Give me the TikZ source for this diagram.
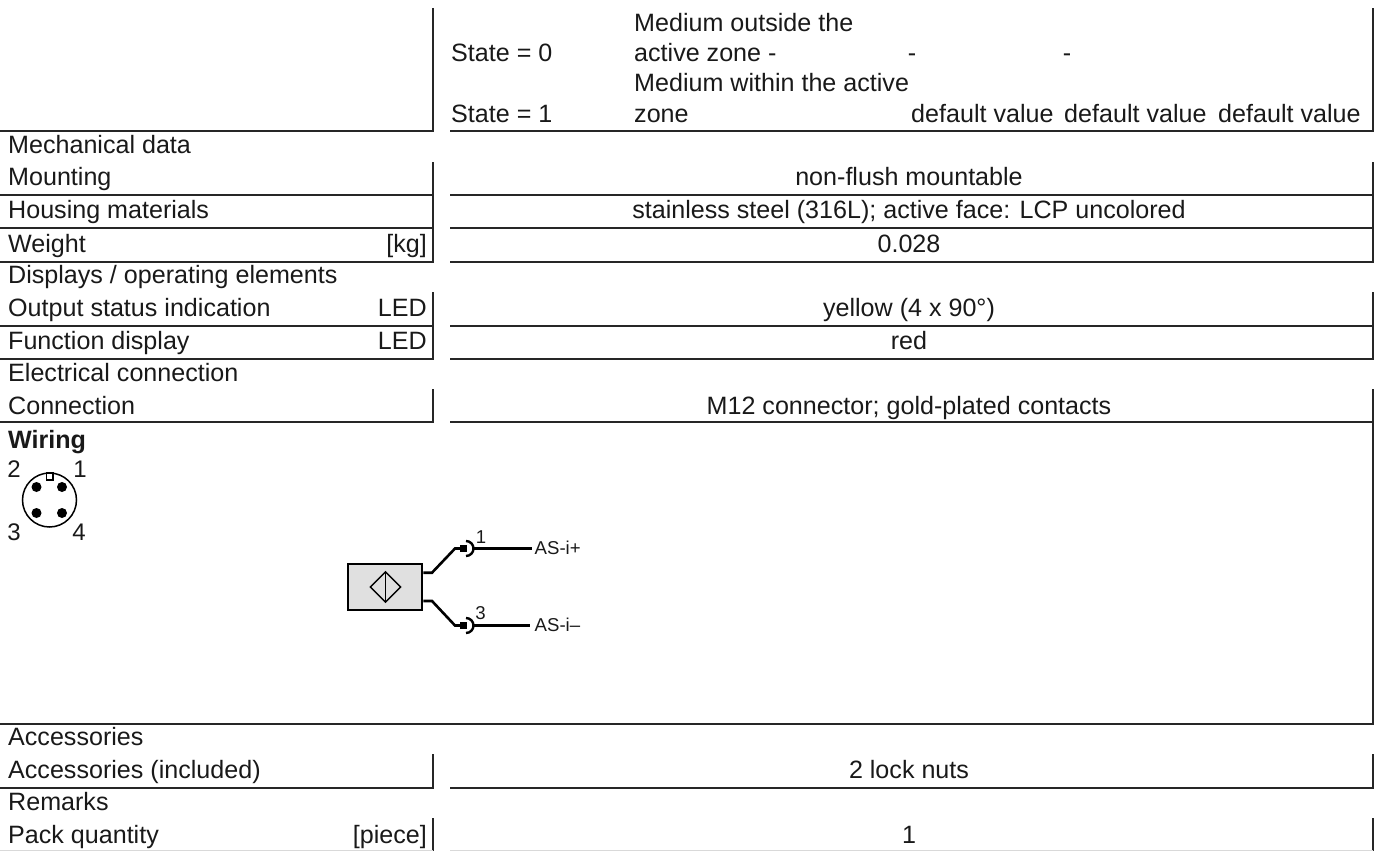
\documentclass[tikz,border=0pt]{standalone}
\usepackage{fontspec}
\setmainfont{Liberation Sans}
\usetikzlibrary{positioning,shapes.geometric}
\tikzset{
    rule/.style={draw=black!85, line width=1.3pt},
    txt/.style={inner sep=0pt, anchor=base west, font=\fontsize{25.1}{27}\selectfont, text=black!90},
    mid/.style={inner sep=0pt, anchor=base, font=\fontsize{25.1}{27}\selectfont, text=black!90},
    rgt/.style={inner sep=0pt, anchor=base east, font=\fontsize{25.1}{27}\selectfont, text=black!90},
    pin/.style={inner sep=0pt, anchor=base, font=\fontsize{24}{26}\selectfont, text=black!90},
    small/.style={inner sep=0pt, anchor=base west, font=\fontsize{18.6}{20}\selectfont, text=black!90},
    wire/.style={draw=black, line width=2.6pt},
    dot/.style={circle, fill=black, inner sep=0pt, minimum size=10pt}
}
\begin{document}
\begin{tikzpicture}[x=1pt, y=-1pt]
    \useasboundingbox (0,0) rectangle (1381,851);
    % table rules
    \draw[rule] (433,8) -- (433,131) -- (0,131);
    \draw[rule] (450,131) -- (1373,131) -- (1373,8);
    \draw[rule] (433,162) -- (433,262) -- (0,262);
    \draw[rule] (0,195) -- (433,195);
    \draw[rule] (0,228) -- (433,228);
    \draw[rule] (450,262) -- (1373,262) -- (1373,162);
    \draw[rule] (450,195) -- (1373,195);
    \draw[rule] (450,228) -- (1373,228);
    \draw[rule] (433,292) -- (433,359) -- (0,359);
    \draw[rule] (0,326) -- (433,326);
    \draw[rule] (450,359) -- (1373,359) -- (1373,292);
    \draw[rule] (450,326) -- (1373,326);
    \draw[rule] (433,389) -- (433,422) -- (0,422);
    \draw[rule] (450,422) -- (1373,422) -- (1373,389);
    \draw[rule] (1373,422) -- (1373,724) -- (0,724);
    \draw[rule] (433,754) -- (433,788) -- (0,788);
    \draw[rule] (450,788) -- (1373,788) -- (1373,754);
    \draw[rule] (433,818) -- (433,851);
    \draw[rule] (1373,818) -- (1373,851);
    \draw[draw=black!15, line width=1pt] (0,850.5) -- (433,850.5);
    \draw[draw=black!15, line width=1pt] (450,850.5) -- (1373,850.5);
    % state rows
    \node[txt] (st0) at (451,62) {State = 0};
    \node[txt] (st1) at (451,122) {State = 1};
    \node[txt] (m1) at (634,32) {Medium outside the};
    \node[txt] (m2) at (634,62) {active zone -};
    \node[txt] (m3) at (634,92) {Medium within the active};
    \node[txt] (m4) at (634,122) {zone};
    \node[mid] (d1) at (912,62) {-};
    \node[mid] (d2) at (1067,62) {-};
    \node[txt] (v1) at (911,122) {default value};
    \node[txt] (v2) at (1064,122) {default value};
    \node[txt] (v3) at (1218,122) {default value};
    % left column
    \node[txt] (mech) at (8,153) {Mechanical data};
    \node[txt] (mount) at (8,185) {Mounting};
    \node[txt] (hous) at (8,218) {Housing materials};
    \node[txt] (wght) at (8,252) {Weight};
    \node[rgt] (kg) at (427,252) {[kg]};
    \node[txt] (disp) at (8,283) {Displays / operating elements};
    \node[txt] (outp) at (8,316) {Output status indication};
    \node[rgt] (led1) at (427,316) {LED};
    \node[txt] (func) at (8,349) {Function display};
    \node[rgt] (led2) at (427,349) {LED};
    \node[txt] (elec) at (8,381) {Electrical connection};
    \node[txt] (conn) at (8,414) {Connection};
    \node[txt, font=\fontsize{25.1}{27}\selectfont\bfseries] (wir) at (8,448) {Wiring};
    \node[txt] (acc) at (8,745) {Accessories};
    \node[txt] (inc) at (8,778) {Accessories (included)};
    \node[txt] (rem) at (8,810) {Remarks};
    \node[txt] (pack) at (8,843) {Pack quantity};
    \node[rgt] (pc) at (427,843) {[piece]};
    % right column
    \node[mid] (r1) at (909,185) {non-flush mountable};
    \node[mid] (r2) at (909,218) {stainless steel (316L); active face: LCP uncolored};
    \node[mid] (r3) at (909,252) {0.028};
    \node[mid] (r4) at (909,316) {yellow (4 x 90°)};
    \node[mid] (r5) at (909,349) {red};
    \node[mid] (r6) at (909,414) {M12 connector; gold-plated contacts};
    \node[mid] (r7) at (909,778) {2 lock nuts};
    \node[mid] (r8) at (909,843) {1};
    % connector face
    \draw[line width=1.5pt] (49.5,500) circle (27);
    \draw[line width=1.3pt, fill=white] (46.5,473) rectangle (53,480);
    \node[dot] (p2) at (36.5,487) {};
    \node[dot] (p1) at (62,487) {};
    \node[dot] (p3) at (36.5,513) {};
    \node[dot] (p4) at (62,513) {};
    \node[pin] (n2) at (14,477) {2};
    \node[pin] (n1) at (80,477) {1};
    \node[pin] (n3) at (14,540) {3};
    \node[pin] (n4) at (79,540) {4};
    % sensor
    \node[draw=black, line width=2.7pt, fill=black!12, minimum width=74pt, minimum height=46pt, inner sep=0pt] (sens) at (385,587) {};
    \node[draw=black, line width=1.4pt, diamond, aspect=1, minimum size=31pt, inner sep=0pt] (face) at (385.5,587) {};
    \draw[line width=1.4pt] (face.north) -- (face.south);
    \coordinate (a1) at (460,548.5);
    \coordinate (a3) at (460,625.5);
    \draw[wire] (sens.east |- 0,572.7) -- (432,572.7) -- (455,548.5) -- (a1);
    \draw[wire] (sens.east |- 0,601) -- (432,601) -- (455,625.5) -- (a3);
    \draw[line width=7pt] (a1) -- (467,548.5);
    \draw[line width=7pt] (a3) -- (467,625.5);
    \draw[line width=2.4pt] (466,541) arc (-90:90:7.5);
    \draw[line width=2.4pt] (466,618) arc (-90:90:7.5);
    \coordinate (b1) at (474,548.5);
    \coordinate (b3) at (474,625.5);
    \coordinate (e1) at (532,548.5);
    \coordinate (e3) at (530,625.5);
    \draw[wire] (b1) -- (e1);
    \draw[wire] (b3) -- (e3);
    \node[small, anchor=base] (l1) at (481,543) {1};
    \node[small, anchor=base] (l3) at (480.5,619) {3};
    \node[small, anchor=west] (ap) at (534.5,548) {AS-i+};
    \node[small, anchor=west] (am) at (534.5,625) {AS-i–};
\end{tikzpicture}
\end{document}
